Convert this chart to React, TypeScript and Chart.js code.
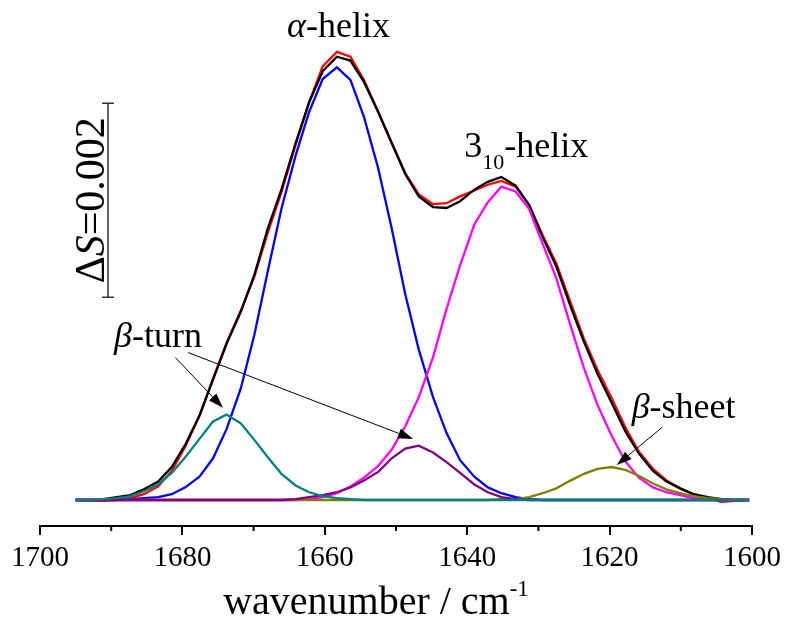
import React, { useEffect, useRef } from "react";
import { Chart, registerables } from "chart.js";

Chart.register(...registerables);

const SERIF = '"Liberation Serif", "Times New Roman", "DejaVu Serif", serif';

// wavenumber grid (cm^-1)
const wavenumbers = [
  1695.0, 1693.1, 1691.1, 1689.2, 1687.3, 1685.4, 1683.4, 1681.5, 1679.6, 1677.6,
  1675.7, 1673.8, 1671.8, 1669.9, 1668.0, 1666.1, 1664.1, 1662.2, 1660.3, 1658.3,
  1656.4, 1654.5, 1652.5, 1650.6, 1648.7, 1646.8, 1644.8, 1642.9, 1641.0, 1639.0,
  1637.1, 1635.2, 1633.2, 1631.3, 1629.4, 1627.5, 1625.5, 1623.6, 1621.7, 1619.7,
  1617.8, 1615.9, 1613.9, 1612.0, 1610.1, 1608.2, 1606.2, 1604.3, 1602.4, 1600.4,
];

// values in units of 1e-3
const measured = [
  0.00, -0.01, -0.01, 0.00, 0.02, 0.06, 0.14, 0.30, 0.55, 0.87,
  1.25, 1.62, 1.95, 2.30, 2.76, 3.17, 3.66, 4.10, 4.47, 4.62,
  4.57, 4.33, 4.00, 3.68, 3.37, 3.15, 3.05, 3.06, 3.13, 3.19,
  3.25, 3.29, 3.23, 3.04, 2.73, 2.44, 2.04, 1.66, 1.34, 1.05,
  0.75, 0.50, 0.32, 0.20, 0.12, 0.06, 0.02, -0.02, -0.01, 0.00,
];

const fitSum = [
  0.00, 0.00, 0.01, 0.03, 0.05, 0.11, 0.19, 0.34, 0.57, 0.87,
  1.24, 1.61, 1.94, 2.32, 2.80, 3.20, 3.68, 4.10, 4.42, 4.57,
  4.53, 4.31, 4.00, 3.68, 3.36, 3.13, 3.02, 3.01, 3.08, 3.20,
  3.28, 3.33, 3.24, 3.04, 2.71, 2.41, 2.00, 1.63, 1.30, 1.00,
  0.71, 0.48, 0.30, 0.19, 0.12, 0.06, 0.03, 0.01, 0.00, 0.00,
];

const alphaHelix = [
  0.00, 0.00, 0.00, 0.01, 0.01, 0.02, 0.03, 0.06, 0.13, 0.24,
  0.43, 0.73, 1.15, 1.70, 2.36, 3.00, 3.55, 4.00, 4.34, 4.46,
  4.33, 3.95, 3.42, 2.80, 2.12, 1.55, 1.06, 0.69, 0.41, 0.24,
  0.13, 0.07, 0.03, 0.01, 0.00, 0.00, 0.00, 0.00, 0.00, 0.00,
  0.00, 0.00, 0.00, 0.00, 0.00, 0.00, 0.00, 0.00, 0.00, 0.00,
];

const helix310 = [
  0.00, 0.00, 0.00, 0.00, 0.00, 0.00, 0.00, 0.00, 0.00, 0.00,
  0.00, 0.00, 0.00, 0.00, 0.00, 0.00, 0.00, 0.01, 0.03, 0.07,
  0.14, 0.23, 0.35, 0.52, 0.76, 1.06, 1.47, 1.97, 2.42, 2.84,
  3.07, 3.23, 3.18, 3.00, 2.64, 2.29, 1.80, 1.36, 0.98, 0.66,
  0.40, 0.23, 0.13, 0.08, 0.05, 0.02, 0.01, 0.00, 0.00, 0.00,
];

const betaTurnHigh = [
  0.00, 0.00, 0.01, 0.02, 0.04, 0.09, 0.16, 0.28, 0.44, 0.63,
  0.81, 0.88, 0.79, 0.62, 0.44, 0.27, 0.15, 0.08, 0.04, 0.02,
  0.01, 0.00, 0.00, 0.00, 0.00, 0.00, 0.00, 0.00, 0.00, 0.00,
  0.00, 0.00, 0.00, 0.00, 0.00, 0.00, 0.00, 0.00, 0.00, 0.00,
  0.00, 0.00, 0.00, 0.00, 0.00, 0.00, 0.00, 0.00, 0.00, 0.00,
];

const betaTurnLow = [
  0.00, 0.00, 0.00, 0.00, 0.00, 0.00, 0.00, 0.00, 0.00, 0.00,
  0.00, 0.00, 0.00, 0.00, 0.00, 0.00, 0.01, 0.03, 0.05, 0.08,
  0.13, 0.20, 0.29, 0.43, 0.53, 0.56, 0.49, 0.39, 0.28, 0.16,
  0.08, 0.03, 0.01, 0.00, 0.00, 0.00, 0.00, 0.00, 0.00, 0.00,
  0.00, 0.00, 0.00, 0.00, 0.00, 0.00, 0.00, 0.00, 0.00, 0.00,
];

const betaSheet = [
  0.00, 0.00, 0.00, 0.00, 0.00, 0.00, 0.00, 0.00, 0.00, 0.00,
  0.00, 0.00, 0.00, 0.00, 0.00, 0.00, 0.00, 0.00, 0.00, 0.00,
  0.00, 0.00, 0.00, 0.00, 0.00, 0.00, 0.00, 0.00, 0.00, 0.00,
  0.00, 0.01, 0.01, 0.03, 0.07, 0.12, 0.20, 0.27, 0.32, 0.34,
  0.31, 0.25, 0.17, 0.11, 0.07, 0.04, 0.02, 0.01, 0.00, 0.00,
];

const xMajorTicks = [1700, 1680, 1660, 1640, 1620, 1600];
const xMinorTicks = [1690, 1670, 1650, 1630, 1610];
const scaleBarRange = [2.09, 4.09]; // ΔS = 0.002

const toPoints = (ys: number[]) => ys.map((y, i) => ({ x: wavenumbers[i], y }));

type Part = { t: string; italic?: boolean; size?: number; dy?: number };

function drawParts(ctx: CanvasRenderingContext2D, parts: Part[], x: number, y: number, base: number) {
  let cx = x;
  for (const p of parts) {
    const size = p.size ?? base;
    ctx.font = `${p.italic ? "italic " : ""}${size}px ${SERIF}`;
    ctx.fillText(p.t, cx, y + (p.dy ?? 0));
    cx += ctx.measureText(p.t).width;
  }
}

function partsWidth(ctx: CanvasRenderingContext2D, parts: Part[], base: number) {
  let w = 0;
  for (const p of parts) {
    const size = p.size ?? base;
    ctx.font = `${p.italic ? "italic " : ""}${size}px ${SERIF}`;
    w += ctx.measureText(p.t).width;
  }
  return w;
}

function arrow(ctx: CanvasRenderingContext2D, x1: number, y1: number, x2: number, y2: number) {
  const ang = Math.atan2(y2 - y1, x2 - x1);
  const len = 15;
  const hw = 5;
  ctx.strokeStyle = "#000";
  ctx.lineWidth = 1;
  ctx.beginPath();
  ctx.moveTo(x1, y1);
  ctx.lineTo(x2 - Math.cos(ang) * len * 0.8, y2 - Math.sin(ang) * len * 0.8);
  ctx.stroke();
  ctx.fillStyle = "#000";
  ctx.beginPath();
  ctx.moveTo(x2, y2);
  ctx.lineTo(x2 - Math.cos(ang) * len + Math.sin(ang) * hw, y2 - Math.sin(ang) * len - Math.cos(ang) * hw);
  ctx.lineTo(x2 - Math.cos(ang) * len - Math.sin(ang) * hw, y2 - Math.sin(ang) * len + Math.cos(ang) * hw);
  ctx.closePath();
  ctx.fill();
}

const decorPlugin = {
  id: "decor",
  afterDraw(chart: any) {
    const ctx: CanvasRenderingContext2D = chart.ctx;
    const xs = chart.scales.x;
    const ys = chart.scales.y;
    const area = chart.chartArea;
    const X = (v: number) => xs.getPixelForValue(v);
    const Y = (v: number) => ys.getPixelForValue(v);
    ctx.save();

    // minor ticks
    ctx.strokeStyle = "#000";
    ctx.lineWidth = 2;
    for (const v of xMinorTicks) {
      const px = X(v);
      ctx.beginPath();
      ctx.moveTo(px, area.bottom);
      ctx.lineTo(px, area.bottom + 5);
      ctx.stroke();
    }

    ctx.fillStyle = "#000";
    ctx.textBaseline = "alphabetic";
    ctx.textAlign = "left";

    // peak labels
    drawParts(ctx, [{ t: "α", italic: true }, { t: "-helix" }], X(1665.3), Y(4.77), 36);
    drawParts(ctx, [{ t: "3" }, { t: "10", size: 22, dy: 12 }, { t: "-helix" }], X(1640.4), Y(3.54), 36);
    drawParts(ctx, [{ t: "β", italic: true }, { t: "-turn" }], X(1689.6), Y(1.58), 36);
    drawParts(ctx, [{ t: "β", italic: true }, { t: "-sheet" }], X(1616.9), Y(0.85), 36);

    // arrows
    arrow(ctx, X(1681.0), Y(1.47), X(1674.3), Y(0.95));
    arrow(ctx, X(1679.2), Y(1.52), X(1647.6), Y(0.63));
    arrow(ctx, X(1612.6), Y(0.75), X(1619.0), Y(0.36));

    // scale bar
    const barX = 108;
    const yTop = Y(scaleBarRange[1]);
    const yBot = Y(scaleBarRange[0]);
    ctx.strokeStyle = "#333";
    ctx.lineWidth = 1.5;
    ctx.beginPath();
    ctx.moveTo(barX, yTop);
    ctx.lineTo(barX, yBot);
    ctx.moveTo(barX - 6, yTop);
    ctx.lineTo(barX + 6, yTop);
    ctx.moveTo(barX - 6, yBot);
    ctx.lineTo(barX + 6, yBot);
    ctx.stroke();

    const sParts: Part[] = [{ t: "Δ" }, { t: "S", italic: true }, { t: "=0.002" }];
    ctx.save();
    ctx.translate(104, (yTop + yBot) / 2);
    ctx.rotate(-Math.PI / 2);
    const sw = partsWidth(ctx, sParts, 42);
    ctx.fillStyle = "#000";
    drawParts(ctx, sParts, -sw / 2, 0, 42);
    ctx.restore();

    // x-axis title
    const tParts: Part[] = [{ t: "wavenumber / cm" }, { t: "-1", size: 23, dy: -18 }];
    const tw = partsWidth(ctx, tParts, 40);
    const cx = (area.left + area.right) / 2 - 20;
    ctx.fillStyle = "#000";
    drawParts(ctx, tParts, cx - tw / 2, 614, 40);

    ctx.restore();
  },
};

export default function App() {
  const ref = useRef<HTMLCanvasElement | null>(null);

  useEffect(() => {
    if (!ref.current) return;
    const mk = (label: string, data: number[], color: string) => ({
      label,
      data: toPoints(data),
      borderColor: color,
      backgroundColor: color,
      borderWidth: 2.3,
      pointRadius: 0,
      tension: 0,
      fill: false,
    });
    const chart = new Chart(ref.current, {
      type: "line",
      data: {
        datasets: [
          mk("β-turn (1674)", betaTurnHigh, "#008080"),
          mk("β-turn (1647)", betaTurnLow, "#800080"),
          mk("β-sheet", betaSheet, "#808000"),
          mk("3₁₀-helix", helix310, "#ff00ff"),
          mk("α-helix", alphaHelix, "#0000ff"),
          mk("fit", fitSum, "#000000"),
          mk("measured", measured, "#ff0000"),
        ],
      },
      options: {
        responsive: false,
        animation: false,
        devicePixelRatio: 1,
        layout: { padding: { left: 40, right: 35, top: 14, bottom: 0 } },
        plugins: { legend: { display: false }, tooltip: { enabled: false }, title: { display: false } },
        scales: {
          x: {
            type: "linear",
            reverse: true,
            min: 1600,
            max: 1700,
            afterBuildTicks: (axis: any) => {
              axis.ticks = xMajorTicks.map((v) => ({ value: v }));
            },
            afterFit: (axis: any) => {
              axis.height = 96;
            },
            ticks: {
              autoSkip: false,
              maxRotation: 0,
              padding: 6,
              color: "#000",
              font: { family: SERIF, size: 29 },
              callback: (v: any) => String(v),
            },
            grid: {
              display: true,
              drawOnChartArea: false,
              drawTicks: true,
              tickLength: 9,
              color: "#000",
              lineWidth: 2,
            },
            border: { display: true, color: "#000", width: 2 },
          },
          y: { display: false, min: -0.268, max: 5.01 },
        },
      },
      plugins: [decorPlugin],
    } as any);
    return () => chart.destroy();
  }, []);

  return (
    <div style={{ position: "absolute", left: 0, top: 0, width: 787, height: 622, background: "#fff" }}>
      <canvas ref={ref} width={787} height={622} style={{ display: "block", width: 787, height: 622 }} />
    </div>
  );
}
